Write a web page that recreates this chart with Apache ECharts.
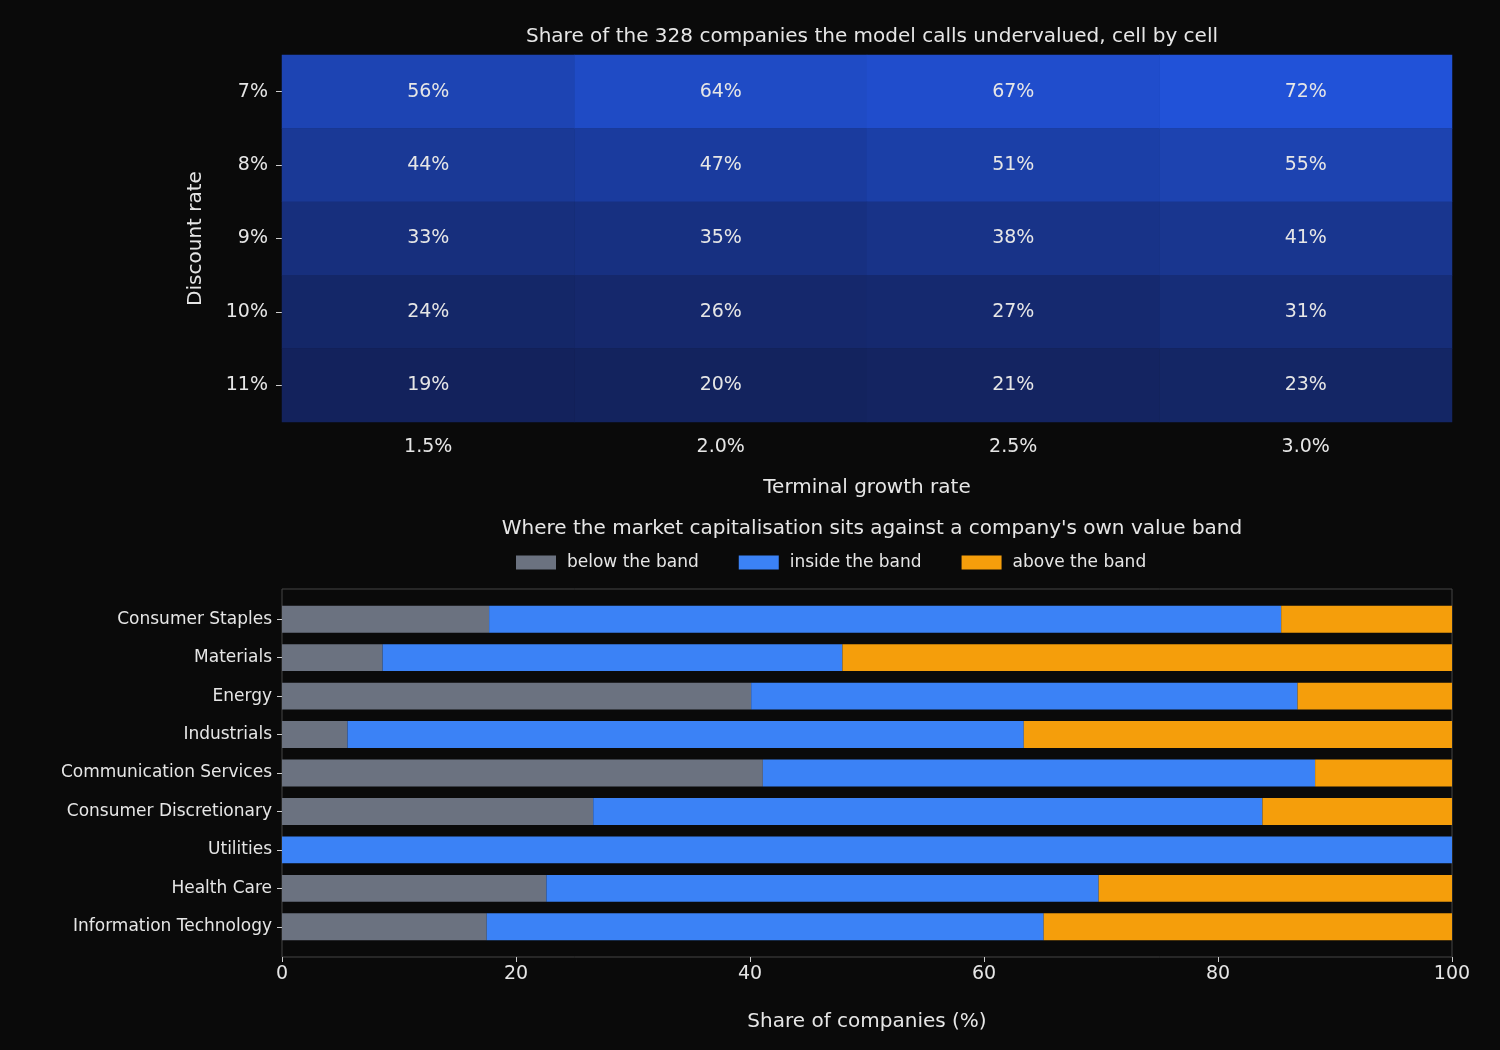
<!DOCTYPE html><html><head><meta charset="utf-8">
<script src="https://cdn.jsdelivr.net/npm/echarts@6/dist/echarts.min.js"></script>
<style>html,body{margin:0;background:#0a0a0a}#c{width:1500px;height:1050px}</style></head><body><div id="c"></div>
<script>
const growthRates=['1.5%','2.0%','2.5%','3.0%'];
const discountRates=['7%','8%','9%','10%','11%'];
const shares=[[56,64,67,72],[44,47,51,55],[33,35,38,41],[24,26,27,31],[19,20,21,23]];
const sectors=['Consumer Staples','Materials','Energy','Industrials','Communication Services','Consumer Discretionary','Utilities','Health Care','Information Technology'];
const below=[17.7,8.6,40.1,5.6,41.1,26.6,0,22.6,17.5];
const inside=[67.7,39.3,46.7,57.8,47.2,57.2,100,47.2,47.6];
const above=[14.6,52.1,13.2,36.6,11.7,16.2,0,30.2,34.9];
const heat=[];
shares.forEach((r,i)=>r.forEach((v,j)=>heat.push([j,i,v])));
const F='DejaVu Sans', T='#e6e6e6';
const ch=echarts.init(document.getElementById('c'));
ch.setOption({
backgroundColor:'#0a0a0a',textStyle:{fontFamily:F},
title:[{text:'Share of the 328 companies the model calls undervalued, cell by cell',left:867,textAlign:'center',top:22,textStyle:{color:T,fontSize:20,fontWeight:'normal',fontFamily:F}},
{text:"Where the market capitalisation sits against a company's own value band",left:867,textAlign:'center',top:514,textStyle:{color:T,fontSize:20,fontWeight:'normal',fontFamily:F}}],
legend:{top:549,left:511,icon:'rect',itemWidth:40,itemHeight:14,itemGap:40,textStyle:{color:T,fontSize:17,fontFamily:F,padding:[0,0,0,6]},data:['below the band','inside the band','above the band']},
grid:[{left:282,width:1170,top:55,height:367},{left:282,width:1170,top:600,height:346}],
graphic:[{type:'rect',shape:{x:282,y:589,width:1170,height:368},style:{fill:'none',stroke:'#444',lineWidth:1},silent:true}],
visualMap:{show:false,min:19,max:72,seriesIndex:0,inRange:{color:['#13225c','#2152d8']}},
xAxis:[{type:'category',gridIndex:0,data:growthRates,name:'Terminal growth rate',nameLocation:'middle',nameGap:56,nameTextStyle:{color:T,fontSize:20},axisLine:{show:false},axisTick:{show:false},axisLabel:{color:T,fontSize:19,margin:16},splitArea:{show:false}},
{type:'value',gridIndex:1,offset:11,min:0,max:100,interval:20,name:'Share of companies (%)',nameLocation:'middle',nameGap:55,nameTextStyle:{color:T,fontSize:20},axisLine:{show:false},axisTick:{show:true,lineStyle:{color:'#ccc'}},axisLabel:{color:T,fontSize:19},splitLine:{show:false}}],
yAxis:[{type:'category',gridIndex:0,data:discountRates,inverse:true,name:'Discount rate',nameLocation:'middle',nameGap:76,nameTextStyle:{color:T,fontSize:20},axisLine:{show:false},axisTick:{show:true,alignWithLabel:true,length:6,lineStyle:{color:'#ccc'}},axisLabel:{color:T,fontSize:19,margin:14}},
{type:'category',gridIndex:1,data:sectors,inverse:true,axisLine:{show:false},axisTick:{show:true,alignWithLabel:true,length:5,lineStyle:{color:'#ccc'}},axisLabel:{color:T,fontSize:17,margin:10}}],
series:[{type:'heatmap',xAxisIndex:0,yAxisIndex:0,data:heat,label:{show:true,color:T,fontSize:19,formatter:p=>p.value[2]+'%'}},
{name:'below the band',type:'bar',stack:'s',xAxisIndex:1,yAxisIndex:1,data:below,barWidth:'70%',itemStyle:{color:'#6b7280'}},
{name:'inside the band',type:'bar',stack:'s',xAxisIndex:1,yAxisIndex:1,data:inside,barWidth:'70%',itemStyle:{color:'#3b82f6'}},
{name:'above the band',type:'bar',stack:'s',xAxisIndex:1,yAxisIndex:1,data:above,barWidth:'70%',itemStyle:{color:'#f59e0b'}}]
});
</script></body></html>
